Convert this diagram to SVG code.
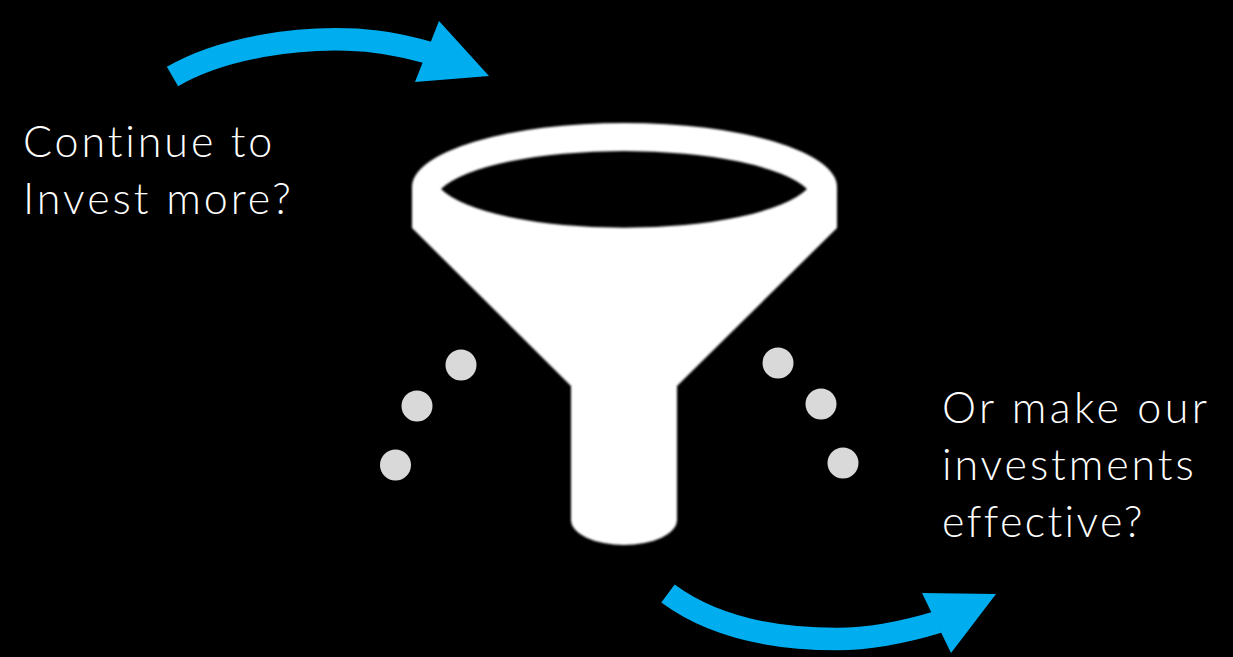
<svg xmlns="http://www.w3.org/2000/svg" width="1233" height="657" viewBox="0 0 1233 657">
<defs>
<style>
.label{font-family:"Lato","Open Sans",sans-serif;font-weight:300;font-size:43px;fill:#fff}
.dot{fill:#d9d9d9}
.shaft{fill:none;stroke:#00aeef;stroke-width:22.5}
.head{fill:#00aeef}
</style>
<filter id="soft" x="-5%" y="-5%" width="110%" height="110%"><feGaussianBlur stdDeviation="0.9"/></filter>
</defs>
<rect width="1233" height="657" fill="#000"/>
<g id="connectors">
<g id="arrow-top">
<path class="shaft" d="M172.500 76.500C225 46 300 38 347 39.500C375 40 402 45 430 53"/>
<polygon class="head" points="439,21 489,76 415,82"/>
</g>
<g id="arrow-bottom">
<path class="shaft" d="M668 593.500C720 632 790 639 837 639C870 639 905 632 938 622"/>
<polygon class="head" points="922,593 996,594 951,653"/>
</g>
</g>
<g id="funnel">
<path fill="#fff" fill-rule="evenodd" filter="url(#soft)" d="M412 228L412 187A212.500 64 0 0 1 837 187L837 228L677 386L677 520A53 25 0 0 1 571 520L571 386ZM441 189A190 52 0 0 1 807 189A190 53 0 0 1 441 189Z"/>
</g>
<g id="dots-left">
<circle class="dot" cx="461" cy="365" r="15.500"/>
<circle class="dot" cx="417" cy="406" r="15.500"/>
<circle class="dot" cx="395.500" cy="465" r="15.500"/>
</g>
<g id="dots-right">
<circle class="dot" cx="778" cy="363" r="15.500"/>
<circle class="dot" cx="821" cy="404" r="15.500"/>
<circle class="dot" cx="843" cy="463" r="15.500"/>
</g>
<g id="label-invest">
<text class="label" x="23" y="157" letter-spacing="2.900">Continue to</text>
<text class="label" x="23" y="213.500" letter-spacing="3">Invest more?</text>
</g>
<g id="label-effective">
<text class="label" x="942" y="423" letter-spacing="3.400">Or make our</text>
<text class="label" x="942" y="479.500" letter-spacing="2.900">investments</text>
<text class="label" x="942" y="536.500" letter-spacing="2.400">effective?</text>
</g>
</svg>
